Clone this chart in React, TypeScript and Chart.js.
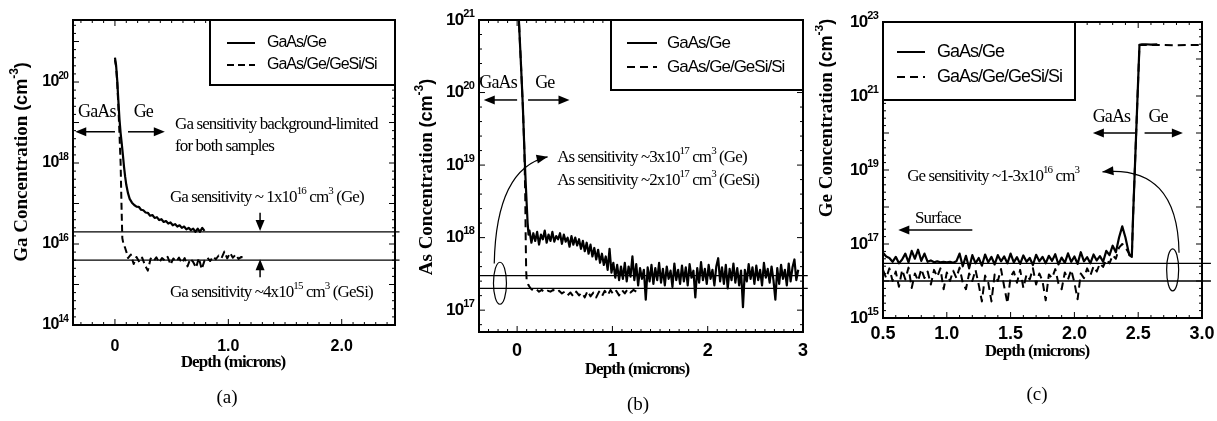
import React, { useEffect, useRef } from "react";
import { Chart, registerables } from "chart.js";
Chart.register(...registerables);

const SERIF = '"Liberation Serif", "Times New Roman", serif';
const SANS = '"Liberation Sans", Arial, sans-serif';

type P = [number, number];

// ---------- Panel (a): Ga ----------
const gaGe: P[] = [
  [0, 4.0e20], [0.01, 2.6e20], [0.02, 1.1e20], [0.03, 3.5e19], [0.04, 1.2e19], [0.05, 5.5e18],
  [0.06, 3.0e18], [0.07, 1.6e18], [0.08, 8.0e17], [0.09, 4.6e17], [0.1, 2.9e17], [0.115, 1.8e17],
  [0.13, 1.3e17], [0.15, 1.05e17], [0.17, 9.2e16], [0.19, 8.4e16], [0.21, 8.3e16], [0.23, 7.0e16],
  [0.25, 6.8e16], [0.27, 6.0e16], [0.29, 5.9e16], [0.31, 5.0e16], [0.33, 5.2e16], [0.35, 4.4e16],
  [0.37, 4.6e16], [0.39, 3.9e16], [0.41, 4.1e16], [0.43, 3.5e16], [0.45, 3.7e16], [0.47, 3.2e16],
  [0.49, 3.4e16], [0.51, 2.9e16], [0.53, 3.1e16], [0.55, 2.7e16], [0.57, 2.9e16], [0.59, 2.5e16],
  [0.61, 2.7e16], [0.63, 2.3e16], [0.65, 2.5e16], [0.67, 2.2e16], [0.69, 2.4e16], [0.71, 2.0e16],
  [0.73, 2.4e16], [0.75, 2.0e16], [0.77, 2.5e16], [0.79, 2.1e16],
];
const gaGeSi: P[] = [
  [0, 3.5e20], [0.01, 2.4e20], [0.02, 1.0e20], [0.03, 2.5e19], [0.04, 5.0e18], [0.05, 1.0e18],
  [0.055, 2.0e17], [0.06, 5.0e16], [0.065, 1.4e16], [0.075, 1.0e16], [0.09, 8.0e15], [0.1, 6.5e15],
  [0.115, 4.5e15], [0.14, 5.5e15], [0.165, 3.2e15], [0.19, 4.8e15], [0.215, 3.6e15], [0.24, 4.6e15],
  [0.265, 3.0e15], [0.29, 2.2e15], [0.315, 4.4e15], [0.34, 3.8e15], [0.365, 4.7e15], [0.39, 3.5e15],
  [0.415, 4.5e15], [0.44, 3.9e15], [0.465, 4.8e15], [0.49, 3.1e15], [0.515, 4.4e15], [0.54, 3.7e15],
  [0.565, 4.6e15], [0.59, 3.4e15], [0.615, 4.5e15], [0.64, 2.8e15], [0.665, 4.3e15], [0.69, 3.6e15],
  [0.715, 2.6e15], [0.74, 4.5e15], [0.765, 2.4e15], [0.79, 3.9e15], [0.815, 4.6e15], [0.84, 3.8e15],
  [0.865, 4.9e15], [0.89, 4.2e15], [0.915, 5.2e15], [0.94, 4.5e15], [0.965, 6.5e15], [0.99, 4.4e15],
  [1.015, 6.0e15], [1.04, 4.6e15], [1.065, 5.5e15], [1.09, 4.3e15], [1.115, 4.8e15], [1.14, 4.4e15],
];
const gaSensitivity = [2e16, 4e15];
const gaXTicks = [0, 1, 2];
const gaYTicks = [1e14, 1e16, 1e18, 1e20];

// ---------- Panel (b): As ----------
const asGe: P[] = [
  [0.005, 3e21], [0.02, 9e20], [0.04, 2.5e20], [0.06, 6.5e19], [0.075, 1.8e19], [0.085, 8e18],
  [0.1, 3e18], [0.11, 1.6e18], [0.12, 1.1e18],
  [0.13, 1.25e18], [0.15, 8.5e17], [0.17, 1.15e18], [0.19, 9.0e17], [0.21, 1.2e18], [0.23, 8.0e17],
  [0.25, 1.1e18], [0.27, 9.5e17], [0.29, 1.25e18], [0.31, 8.5e17], [0.33, 1.1e18], [0.35, 9.0e17],
  [0.37, 1.2e18], [0.39, 8.8e17], [0.41, 1.05e18], [0.43, 9.5e17], [0.45, 1.15e18], [0.47, 8.2e17],
  [0.49, 1.1e18], [0.51, 8.8e17], [0.53, 1.0e18], [0.55, 7.5e17], [0.57, 1.05e18], [0.59, 8.0e17],
  [0.61, 1.0e18], [0.63, 7.8e17], [0.65, 9.5e17], [0.67, 7.0e17], [0.69, 9.0e17], [0.71, 6.5e17],
  [0.73, 8.5e17], [0.75, 6.0e17], [0.77, 8.0e17], [0.79, 5.5e17], [0.81, 7.2e17], [0.83, 5.0e17],
  [0.85, 6.8e17], [0.87, 4.5e17], [0.89, 6.0e17], [0.91, 4.2e17], [0.93, 5.5e17], [0.95, 3.6e17],
  [0.97, 7.0e17], [0.99, 3.3e17], [1.01, 4.5e17], [1.03, 2.8e17], [1.05, 4.2e17], [1.07, 2.6e17],
  [1.09, 4.0e17], [1.11, 2.7e17], [1.13, 4.5e17], [1.15, 2.5e17], [1.17, 4.0e17], [1.19, 2.9e17],
  [1.21, 5.5e17], [1.23, 2.6e17], [1.25, 4.3e17], [1.27, 2.2e17], [1.29, 3.8e17], [1.31, 2.7e17],
  [1.33, 3.6e17], [1.35, 1.4e17], [1.37, 3.9e17], [1.39, 2.5e17], [1.41, 4.2e17], [1.43, 2.3e17],
  [1.45, 3.8e17], [1.47, 2.6e17], [1.49, 4.5e17], [1.51, 2.4e17], [1.53, 3.7e17], [1.55, 2.2e17],
  [1.57, 4.0e17], [1.59, 2.7e17], [1.61, 3.5e17], [1.63, 2.1e17], [1.65, 4.4e17], [1.67, 2.6e17],
  [1.69, 3.6e17], [1.71, 2.3e17], [1.73, 4.1e17], [1.75, 2.5e17], [1.77, 3.9e17], [1.79, 2.2e17],
  [1.81, 4.3e17], [1.83, 2.8e17], [1.85, 3.5e17], [1.87, 1.5e17], [1.89, 3.8e17], [1.91, 2.4e17],
  [1.93, 4.6e17], [1.95, 2.6e17], [1.97, 3.7e17], [1.99, 2.3e17], [2.01, 4.2e17], [2.03, 2.7e17],
  [2.05, 3.6e17], [2.07, 2.2e17], [2.09, 4.0e17], [2.11, 5.2e17], [2.13, 2.5e17], [2.15, 3.9e17],
  [2.17, 2.3e17], [2.19, 4.2e17], [2.21, 2.0e17], [2.23, 3.7e17], [2.25, 2.6e17], [2.27, 4.4e17],
  [2.29, 2.4e17], [2.31, 3.8e17], [2.33, 2.2e17], [2.35, 3.5e17], [2.37, 1.1e17], [2.39, 3.6e17],
  [2.41, 2.5e17], [2.43, 4.3e17], [2.45, 2.7e17], [2.47, 3.9e17], [2.49, 2.3e17], [2.51, 4.1e17],
  [2.53, 2.6e17], [2.55, 3.6e17], [2.57, 2.2e17], [2.59, 4.5e17], [2.61, 2.8e17], [2.63, 3.7e17],
  [2.65, 2.4e17], [2.67, 4.0e17], [2.69, 2.6e17], [2.71, 1.4e17], [2.73, 3.8e17], [2.75, 2.3e17],
  [2.77, 4.2e17], [2.79, 2.7e17], [2.81, 3.6e17], [2.83, 2.2e17], [2.85, 4.4e17], [2.87, 2.5e17],
  [2.89, 3.9e17], [2.91, 5.0e17], [2.93, 2.6e17], [2.95, 3.6e17],
];
const asGeSi: P[] = [
  [0.005, 3e21], [0.02, 9e20], [0.04, 2.5e20], [0.06, 6.5e19], [0.075, 1.8e19], [0.085, 4e18],
  [0.09, 1e18], [0.095, 3.5e17], [0.1, 2.6e17], [0.12, 2.2e17], [0.14, 2.0e17], [0.17, 1.85e17],
  [0.2, 1.95e17], [0.23, 1.8e17], [0.26, 1.9e17], [0.29, 1.75e17], [0.32, 1.85e17], [0.35, 1.8e17],
  [0.38, 1.9e17], [0.41, 1.75e17], [0.44, 1.85e17], [0.47, 1.7e17], [0.5, 1.8e17], [0.53, 1.6e17],
  [0.56, 1.75e17], [0.59, 1.55e17], [0.62, 1.8e17], [0.65, 1.6e17], [0.68, 1.75e17], [0.71, 1.5e17],
  [0.74, 1.85e17], [0.77, 1.55e17], [0.8, 1.75e17], [0.83, 1.5e17], [0.86, 1.8e17], [0.89, 1.55e17],
  [0.92, 1.85e17], [0.95, 1.6e17], [0.98, 1.9e17], [1.01, 1.65e17], [1.04, 1.85e17], [1.07, 1.6e17],
  [1.1, 1.9e17], [1.13, 1.7e17], [1.16, 1.95e17], [1.19, 1.75e17], [1.22, 1.9e17], [1.25, 1.8e17],
];
const asSensitivity = [3e17, 2e17];
const asXTicks = [0, 1, 2, 3];
const asYTicks = [1e17, 1e18, 1e19, 1e20, 1e21];

// ---------- Panel (c): Ge ----------
const geGe: P[] = [
  [0.5, 5.8e16], [0.525, 4.6e16], [0.55, 4.2e16], [0.575, 3.3e16], [0.6, 4.5e16], [0.625, 3.0e16],
  [0.65, 3.8e16], [0.675, 5.5e16], [0.7, 3.2e16], [0.725, 6.5e16], [0.75, 4.0e16], [0.775, 7.0e16],
  [0.8, 3.5e16], [0.825, 5.5e16], [0.85, 3.3e16], [0.875, 3.6e16], [0.9, 3.2e16], [0.925, 3.4e16],
  [0.95, 3.2e16], [0.975, 3.3e16], [1.0, 3.2e16], [1.025, 3.3e16], [1.05, 3.1e16], [1.075, 3.4e16],
  [1.1, 5.5e16], [1.125, 2.5e16], [1.15, 4.8e16], [1.175, 2.2e16], [1.2, 5.0e16], [1.225, 3.0e16],
  [1.25, 4.2e16], [1.275, 2.6e16], [1.3, 5.2e16], [1.325, 3.2e16], [1.35, 4.5e16], [1.375, 2.8e16],
  [1.4, 5.0e16], [1.425, 3.4e16], [1.45, 4.6e16], [1.475, 3.0e16], [1.5, 5.5e16], [1.525, 3.2e16],
  [1.55, 4.4e16], [1.575, 2.9e16], [1.6, 4.9e16], [1.625, 3.3e16], [1.65, 4.2e16], [1.675, 2.7e16],
  [1.7, 5.1e16], [1.725, 3.4e16], [1.75, 4.5e16], [1.775, 3.0e16], [1.8, 4.8e16], [1.825, 3.5e16],
  [1.85, 5.3e16], [1.875, 2.8e16], [1.9, 4.3e16], [1.925, 3.1e16], [1.95, 5.6e16], [1.975, 3.3e16],
  [2.0, 4.6e16], [2.025, 2.9e16], [2.05, 6.0e16], [2.075, 3.4e16], [2.1, 4.4e16], [2.125, 3.0e16],
  [2.15, 5.2e16], [2.175, 3.6e16], [2.2, 4.7e16], [2.225, 3.3e16], [2.25, 6.5e16], [2.275, 5.0e16],
  [2.3, 9.0e16], [2.325, 6.0e16], [2.35, 1.5e17], [2.375, 3.0e17], [2.4, 1.5e17], [2.43, 5.0e16],
  [2.45, 4.5e16], [2.46, 5.8e17], [2.47, 4.9e18], [2.48, 4.1e19], [2.49, 3.5e20], [2.5, 2.9e21],
  [2.51, 2.4e22], [2.53, 2.5e22], [2.56, 2.5e22], [2.6, 2.45e22], [2.65, 2.5e22],
];
const geGeSi: P[] = [
  [0.5, 2.0e16], [0.525, 1.2e16], [0.55, 2.2e16], [0.575, 1.0e16], [0.6, 1.8e16], [0.625, 7.0e15],
  [0.65, 2.0e16], [0.675, 1.1e16], [0.7, 2.3e16], [0.725, 6.5e15], [0.75, 1.6e16], [0.775, 1.0e16],
  [0.8, 2.1e16], [0.825, 1.2e16], [0.85, 1.8e16], [0.875, 8.0e15], [0.9, 2.0e16], [0.925, 1.3e16],
  [0.95, 2.2e16], [0.975, 6.0e15], [1.0, 1.7e16], [1.025, 1.0e16], [1.05, 1.9e16], [1.075, 1.2e16],
  [1.1, 2.3e16], [1.125, 9.0e15], [1.15, 6.0e15], [1.175, 1.6e16], [1.2, 1.0e16], [1.225, 2.0e16],
  [1.25, 8.0e15], [1.275, 2.8e15], [1.3, 1.4e16], [1.325, 9.0e15], [1.35, 2.8e15], [1.375, 1.5e16],
  [1.4, 1.0e16], [1.425, 2.1e16], [1.45, 7.0e15], [1.475, 2.5e15], [1.5, 1.3e16], [1.525, 1.8e16],
  [1.55, 9.0e15], [1.575, 2.0e16], [1.6, 6.5e15], [1.625, 1.5e16], [1.65, 1.1e16], [1.675, 2.2e16],
  [1.7, 8.0e15], [1.725, 1.6e16], [1.75, 1.0e16], [1.775, 3.0e15], [1.8, 1.5e16], [1.825, 1.2e16],
  [1.85, 2.1e16], [1.875, 8.5e15], [1.9, 6.0e15], [1.925, 1.7e16], [1.95, 1.1e16], [1.975, 2.0e16],
  [2.0, 9.0e15], [2.025, 3.2e15], [2.05, 1.6e16], [2.075, 1.2e16], [2.1, 2.2e16], [2.125, 1.4e16],
  [2.15, 2.5e16], [2.175, 1.8e16], [2.2, 3.0e16], [2.225, 2.4e16], [2.25, 3.8e16], [2.275, 3.0e16],
  [2.3, 5.0e16], [2.325, 4.0e16], [2.35, 8.0e16], [2.375, 1.0e17], [2.4, 8.0e16], [2.43, 5.5e16],
  [2.45, 4.5e16], [2.46, 5.8e17], [2.47, 4.9e18], [2.48, 4.1e19], [2.49, 3.5e20], [2.5, 2.9e21],
  [2.51, 2.4e22], [2.55, 2.4e22], [2.6, 2.4e22], [2.7, 2.4e22], [2.8, 2.35e22], [2.9, 2.4e22],
  [3.0, 2.4e22],
];
const geSensitivity = [3e16, 1e16];
const geXTicks = [0.5, 1.0, 1.5, 2.0, 2.5, 3.0];
const geYTicks = [1e15, 1e17, 1e19, 1e21, 1e23];

const legendLabels = ["GaAs/Ge", "GaAs/Ge/GeSi/Si"];

// ---------- annotations (data coordinates) ----------
type Note =
  | { k: "text"; t: string; x: number; y: number; align?: "left" | "center"; fs?: number }
  | { k: "arrow"; x1: number; y1: number; x2: number; y2: number }
  | { k: "curve"; x1: number; y1: number; cx: number; cy: number; x2: number; y2: number }
  | { k: "ellipse"; x: number; y: number; rx: number; ry: number };

const gaNotes: Note[] = [
  { k: "text", t: "GaAs", x: -0.16, y: 1.8e19, align: "center", fs: 18 },
  { k: "text", t: "Ge", x: 0.25, y: 1.8e19, align: "center", fs: 18 },
  { k: "arrow", x1: 0, y1: 5.9e18, x2: -0.35, y2: 5.9e18 },
  { k: "arrow", x1: 0.115, y1: 5.9e18, x2: 0.44, y2: 5.9e18 },
  { k: "text", t: "Ga sensitivity background-limited", x: 0.53, y: 8.7e18 },
  { k: "text", t: "for both samples", x: 0.53, y: 2.5e18 },
  { k: "text", t: "Ga sensitivity ~ 1x10^{16} cm^{3} (Ge)", x: 0.485, y: 1.4e17 },
  { k: "arrow", x1: 1.28, y1: 5.9e16, x2: 1.28, y2: 2.1e16 },
  { k: "arrow", x1: 1.28, y1: 1.5e15, x2: 1.28, y2: 4.2e15 },
  { k: "text", t: "Ga sensitivity ~4x10^{15} cm^{3} (GeSi)", x: 0.485, y: 6.5e14 },
];
const asNotes: Note[] = [
  { k: "text", t: "GaAs", x: -0.2, y: 1.35e20, align: "center", fs: 18 },
  { k: "text", t: "Ge", x: 0.29, y: 1.35e20, align: "center", fs: 18 },
  { k: "arrow", x1: 0, y1: 7.9e19, x2: -0.35, y2: 7.9e19 },
  { k: "arrow", x1: 0.115, y1: 7.9e19, x2: 0.55, y2: 7.9e19 },
  { k: "text", t: "As sensitivity ~3x10^{17} cm^{3} (Ge)", x: 0.42, y: 1.26e19 },
  { k: "text", t: "As sensitivity ~2x10^{17} cm^{3} (GeSi)", x: 0.42, y: 6.2e18 },
  { k: "curve", x1: -0.24, y1: 4.4e17, cx: -0.22, cy: 9.1e18, x2: 0.32, y2: 1.3e19 },
  { k: "ellipse", x: -0.18, y: 2.35e17, rx: 6.5, ry: 21 },
];
const geNotes: Note[] = [
  { k: "text", t: "GaAs", x: 2.29, y: 2.7e20, align: "center", fs: 18 },
  { k: "text", t: "Ge", x: 2.655, y: 2.7e20, align: "center", fs: 18 },
  { k: "arrow", x1: 2.475, y1: 1e20, x2: 2.145, y2: 1e20 },
  { k: "arrow", x1: 2.55, y1: 1e20, x2: 2.85, y2: 1e20 },
  { k: "text", t: "Ge sensitivity ~1-3x10^{16} cm^{3}", x: 0.69, y: 6.5e18 },
  { k: "curve", x1: 2.82, y1: 5.8e16, cx: 2.81, cy: 1.4e19, x2: 2.22, y2: 8.9e18 },
  { k: "ellipse", x: 2.77, y: 2e16, rx: 6, ry: 21 },
  { k: "text", t: "Surface", x: 0.93, y: 5e17, align: "center", fs: 17 },
  { k: "arrow", x1: 1.2, y1: 2.4e17, x2: 0.62, y2: 2.4e17 },
];

// ---------- layout ----------
interface Panel {
  id: string;
  left: number;
  width: number;
  height: number;
  area: { l: number; t: number; r: number; b: number };
  xMin: number; xMax: number; yMin: number; yMax: number;
  xTicks: number[]; yTicks: number[];
  xFmt: (v: number) => string;
  xFont: number; xPad: number; yFont: number;
  solid: P[]; dashed: P[]; dash: number[];
  sens: number[]; sensEnd: number;
  notes: Note[];
  legend: { x: number; y: number; w: number; h: number; fs: number; l0: number; l1: number; tx: number; r1: number; r2: number };
  yTitle: { x: number; y: number; t: string };
  xTitle: { x: number; y: number };
  caption: { x: number; y: number; t: string };
}

const panels: Panel[] = [
  {
    id: "a", left: 0, width: 405, height: 421,
    area: { l: 73, t: 20, r: 395, b: 325 },
    xMin: -0.37, xMax: 2.47, yMin: 1e14, yMax: 3.4e21,
    xTicks: gaXTicks, yTicks: gaYTicks,
    xFmt: (v) => (v === 0 ? "0" : v.toFixed(1)),
    xFont: 16, xPad: 12, yFont: 16,
    solid: gaGe, dashed: gaGeSi, dash: [7, 4],
    sens: gaSensitivity, sensEnd: 2.51,
    notes: gaNotes,
    legend: { x: 210, y: 20, w: 185, h: 65, fs: 16, l0: 227, l1: 255, tx: 267, r1: 23, r2: 45 },
    yTitle: { x: 22, y: 162, t: "Ga Concentration " },
    xTitle: { x: 233, y: 363 },
    caption: { x: 227, y: 398, t: "(a)" },
  },
  {
    id: "b", left: 405, width: 410, height: 421,
    area: { l: 74, t: 20, r: 398, b: 332 },
    xMin: -0.4, xMax: 3, yMin: 5e16, yMax: 1e21,
    xTicks: asXTicks, yTicks: asYTicks,
    xFmt: (v) => String(Math.round(v)),
    xFont: 18, xPad: 8, yFont: 17,
    solid: asGe, dashed: asGeSi, dash: [8, 5],
    sens: asSensitivity, sensEnd: 3.05,
    notes: asNotes,
    legend: { x: 206, y: 20, w: 192, h: 70, fs: 17, l0: 222, l1: 252, tx: 262, r1: 23, r2: 47 },
    yTitle: { x: 22, y: 177, t: "As Concentration " },
    xTitle: { x: 232, y: 370 },
    caption: { x: 233, y: 405, t: "(b)" },
  },
  {
    id: "c", left: 815, width: 402, height: 421,
    area: { l: 68, t: 22, r: 387, b: 318 },
    xMin: 0.5, xMax: 3.0, yMin: 1e15, yMax: 1e23,
    xTicks: geXTicks, yTicks: geYTicks,
    xFmt: (v) => v.toFixed(1),
    xFont: 18, xPad: 5, yFont: 17,
    solid: geGe, dashed: geGeSi, dash: [8, 5],
    sens: geSensitivity, sensEnd: 3.07,
    notes: geNotes,
    legend: { x: 68, y: 22, w: 192, h: 78, fs: 18, l0: 82, l1: 110, tx: 122, r1: 30, r2: 55 },
    yTitle: { x: 12, y: 118, t: "Ge Concentration " },
    xTitle: { x: 222, y: 352 },
    caption: { x: 222, y: 395, t: "(c)" },
  },
];

// ---------- drawing helpers ----------
type Seg = { t: string; f: string; dy?: number };

function segsFrom(s: string, size: number, family: string, weight = "normal"): Seg[] {
  const out: Seg[] = [];
  const re = /\^\{([^}]*)\}/g;
  let last = 0;
  let m: RegExpExecArray | null;
  while ((m = re.exec(s))) {
    if (m.index > last) out.push({ t: s.slice(last, m.index), f: `${weight} ${size}px ${family}` });
    out.push({ t: m[1], f: `${weight} ${Math.round(size * 0.65)}px ${family}`, dy: -size * 0.38 });
    last = m.index + m[0].length;
  }
  if (last < s.length) out.push({ t: s.slice(last), f: `${weight} ${size}px ${family}` });
  return out;
}

function drawSegs(ctx: any, segs: Seg[], x: number, y: number, align: string, ls = 0) {
  ctx.letterSpacing = `${ls}px`;
  let w = 0;
  for (const s of segs) {
    ctx.font = s.f;
    w += ctx.measureText(s.t).width;
  }
  let cx = align === "center" ? x - w / 2 : align === "right" ? x - w : x;
  ctx.textAlign = "left";
  for (const s of segs) {
    ctx.font = s.f;
    ctx.fillText(s.t, cx, y + (s.dy || 0));
    cx += ctx.measureText(s.t).width;
  }
  ctx.letterSpacing = "0px";
}

function arrowHead(ctx: any, x: number, y: number, ang: number, len = 10, hw = 4) {
  const c = Math.cos(ang), s = Math.sin(ang);
  ctx.beginPath();
  ctx.moveTo(x, y);
  ctx.lineTo(x - len * c + hw * s, y - len * s - hw * c);
  ctx.lineTo(x - len * c - hw * s, y - len * s + hw * c);
  ctx.closePath();
  ctx.fill();
}

function makePlugin(p: Panel) {
  return {
    id: "deco_" + p.id,
    afterDraw(chart: any) {
      const ctx = chart.ctx;
      const a = chart.chartArea;
      const xs = chart.scales.x;
      const ys = chart.scales.y;
      const X = (v: number) => xs.getPixelForValue(v);
      const Y = (v: number) => ys.getPixelForValue(v);
      ctx.save();
      ctx.fillStyle = "#000";
      ctx.strokeStyle = "#000";

      // frame
      ctx.lineWidth = 2;
      ctx.strokeRect(a.left, a.top, a.right - a.left, a.bottom - a.top);

      // inward tick marks on all four sides
      ctx.lineWidth = 1;
      ctx.beginPath();
      for (let i = Math.ceil(p.xMin * 10 - 1e-6); i <= Math.floor(p.xMax * 10 + 1e-6); i++) {
        const v = i / 10;
        const major = p.xTicks.some((t) => Math.abs(t - v) < 1e-6);
        const L = major ? 6 : 3;
        const px = X(v);
        ctx.moveTo(px, a.bottom);
        ctx.lineTo(px, a.bottom - L);
        ctx.moveTo(px, a.top);
        ctx.lineTo(px, a.top + L);
      }
      const lmin = Math.log10(p.yMin), lmax = Math.log10(p.yMax);
      for (let i = Math.ceil(lmin * 5 - 1e-6); i <= Math.floor(lmax * 5 + 1e-6); i++) {
        const e = i / 5;
        const major = Math.abs(e - Math.round(e)) < 1e-6;
        const L = major ? 6 : 3;
        const py = Y(Math.pow(10, e));
        ctx.moveTo(a.left, py);
        ctx.lineTo(a.left + L, py);
        ctx.moveTo(a.right, py);
        ctx.lineTo(a.right - L, py);
      }
      ctx.stroke();

      // y tick labels (10^n) from the scale's ticks
      ctx.textBaseline = "middle";
      for (const t of ys.ticks) {
        const e = Math.round(Math.log10(t.value));
        drawSegs(ctx, segsFrom(`10^{${e}}`, p.yFont, SANS, "bold"), a.left - 5, Y(t.value), "right", -0.8);
      }

      // legend
      const lg = p.legend;
      ctx.lineWidth = 2;
      ctx.fillStyle = "#fff";
      ctx.fillRect(lg.x, lg.y, lg.w, lg.h);
      ctx.strokeRect(lg.x, lg.y, lg.w, lg.h);
      ctx.fillStyle = "#000";
      ctx.beginPath();
      ctx.moveTo(lg.l0, lg.y + lg.r1);
      ctx.lineTo(lg.l1, lg.y + lg.r1);
      ctx.stroke();
      ctx.setLineDash(p.dash);
      ctx.beginPath();
      ctx.moveTo(lg.l0, lg.y + lg.r2);
      ctx.lineTo(lg.l1, lg.y + lg.r2);
      ctx.stroke();
      ctx.setLineDash([]);
      drawSegs(ctx, segsFrom(legendLabels[0], lg.fs, SANS), lg.tx, lg.y + lg.r1, "left", -1);
      drawSegs(ctx, segsFrom(legendLabels[1], lg.fs, SANS), lg.tx, lg.y + lg.r2, "left", -1);

      // annotations
      for (const n of p.notes) {
        if (n.k === "text") {
          drawSegs(ctx, segsFrom(n.t, n.fs || 17, SERIF), X(n.x), Y(n.y), n.align || "left", -0.9);
        } else if (n.k === "arrow") {
          const x1 = X(n.x1), y1 = Y(n.y1), x2 = X(n.x2), y2 = Y(n.y2);
          const ang = Math.atan2(y2 - y1, x2 - x1);
          ctx.lineWidth = 1.5;
          ctx.beginPath();
          ctx.moveTo(x1, y1);
          ctx.lineTo(x2 - 6 * Math.cos(ang), y2 - 6 * Math.sin(ang));
          ctx.stroke();
          arrowHead(ctx, x2, y2, ang, 11, 4.5);
        } else if (n.k === "curve") {
          const x1 = X(n.x1), y1 = Y(n.y1), cx = X(n.cx), cy = Y(n.cy), x2 = X(n.x2), y2 = Y(n.y2);
          ctx.lineWidth = 1.2;
          ctx.beginPath();
          ctx.moveTo(x1, y1);
          ctx.quadraticCurveTo(cx, cy, x2, y2);
          ctx.stroke();
          arrowHead(ctx, x2, y2, Math.atan2(y2 - cy, x2 - cx), 11, 4.5);
        } else if (n.k === "ellipse") {
          ctx.lineWidth = 1.2;
          ctx.beginPath();
          ctx.ellipse(X(n.x), Y(n.y), n.rx, n.ry, 0, 0, Math.PI * 2);
          ctx.stroke();
        }
      }

      // axis titles and caption
      ctx.save();
      ctx.translate(p.yTitle.x, p.yTitle.y);
      ctx.rotate(-Math.PI / 2);
      drawSegs(
        ctx,
        [
          { t: p.yTitle.t, f: `bold 19px ${SERIF}` },
          { t: "(cm", f: `bold 18px ${SANS}` },
          { t: "-3", f: `bold 12px ${SANS}`, dy: -7 },
          { t: ")", f: `bold 18px ${SANS}` },
        ],
        0, 0, "center", 0
      );
      ctx.restore();
      drawSegs(ctx, segsFrom("Depth (microns)", 17, SERIF, "bold"), p.xTitle.x, p.xTitle.y, "center", -0.9);
      drawSegs(ctx, segsFrom(p.caption.t, 19, SERIF), p.caption.x, p.caption.y, "center", 0);
      ctx.restore();
    },
  };
}

function buildConfig(p: Panel): any {
  const line = (data: P[], dash: number[], w: number) => ({
    data: data.map(([x, y]) => ({ x, y })),
    borderColor: "#000",
    borderWidth: w,
    borderDash: dash,
    pointRadius: 0,
    showLine: true,
    fill: false,
    tension: 0,
    borderJoinStyle: "round",
  });
  const datasets: any[] = [
    ...p.sens.map((v) => ({
      ...line([[p.xMin, v], [p.sensEnd, v]], [], 1.3),
      clip: { left: 0, top: 0, right: 10, bottom: 0 },
    })),
    line(p.dashed, p.dash, 2),
    line(p.solid, [], 2.2),
  ];
  const W = p.width, H = p.height, A = p.area;
  return {
    type: "scatter",
    data: { datasets },
    options: {
      responsive: false,
      animation: false,
      events: [],
      layout: { padding: { left: 0, top: A.t, right: W - A.r, bottom: 0 } },
      plugins: { legend: { display: false }, tooltip: { enabled: false }, title: { display: false } },
      scales: {
        x: {
          type: "linear",
          min: p.xMin,
          max: p.xMax,
          bounds: "data",
          grid: { display: false, drawTicks: false },
          border: { display: false },
          ticks: {
            color: "#000",
            font: { family: SANS, size: p.xFont, weight: "bold" },
            padding: p.xPad,
            maxRotation: 0,
            autoSkip: false,
            callback: (v: number) => p.xFmt(v),
          },
          afterBuildTicks: (s: any) => {
            s.ticks = p.xTicks.map((value) => ({ value }));
          },
          afterFit: (s: any) => {
            s.height = H - A.b;
            s.paddingLeft = 0;
            s.paddingRight = 0;
          },
        },
        y: {
          type: "logarithmic",
          min: p.yMin,
          max: p.yMax,
          bounds: "data",
          grid: { display: false, drawTicks: false },
          border: { display: false },
          ticks: { display: false },
          afterBuildTicks: (s: any) => {
            s.ticks = p.yTicks.map((value) => ({ value }));
          },
          afterFit: (s: any) => {
            s.width = A.l;
          },
        },
      },
    },
    plugins: [makePlugin(p)],
  };
}

function PanelChart({ p }: { p: Panel }) {
  const ref = useRef<HTMLCanvasElement>(null);
  useEffect(() => {
    const chart = new Chart(ref.current as HTMLCanvasElement, buildConfig(p));
    return () => chart.destroy();
  }, []);
  return (
    <canvas
      ref={ref}
      width={p.width}
      height={p.height}
      style={{ position: "absolute", left: p.left, top: 0, width: p.width, height: p.height }}
    />
  );
}

export default function App() {
  return (
    <div style={{ position: "absolute", left: 0, top: 0, width: 1217, height: 421, background: "#fff", overflow: "hidden" }}>
      {panels.map((p) => (
        <PanelChart key={p.id} p={p} />
      ))}
    </div>
  );
}
